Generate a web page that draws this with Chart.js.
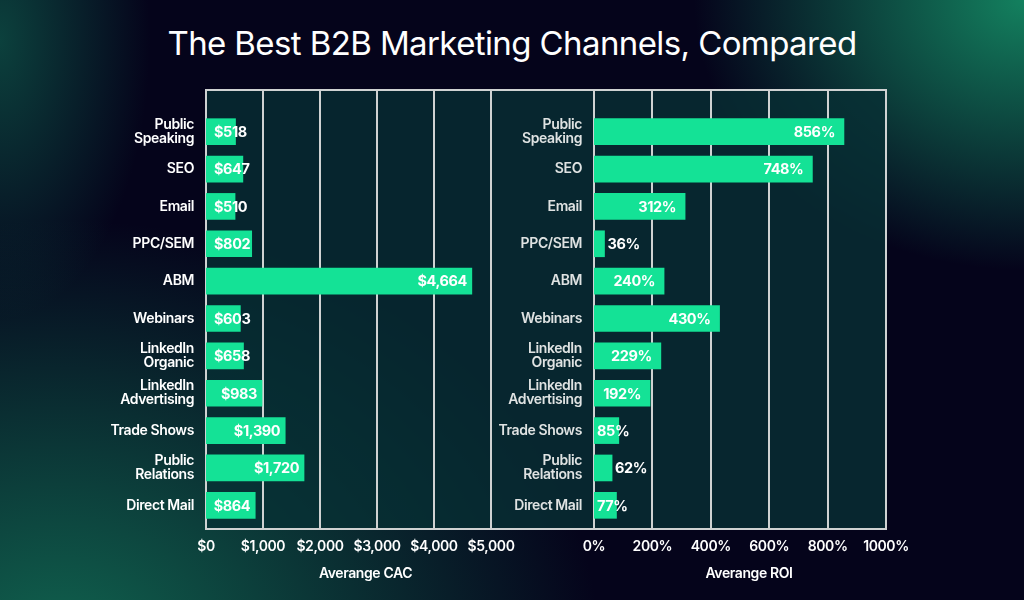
<!DOCTYPE html>
<html>
<head>
<meta charset="utf-8">
<script src="https://cdn.jsdelivr.net/npm/chart.js@4.4.1/dist/chart.umd.min.js"></script>
<style>
html, body { margin: 0; padding: 0; }
body {
	width: 1024px; height: 600px; overflow: hidden; position: relative;
	font-family: Inter, sans-serif;
	background:
		radial-gradient(ellipse 540px 430px at 60px 650px, rgba(17,105,82,0.95), rgba(17,105,82,0) 100%),
		radial-gradient(ellipse 330px 270px at 1024px 0px, rgba(20,135,98,0.95), rgba(20,135,98,0) 100%),
		radial-gradient(ellipse 150px 280px at 0px 40px, rgba(14,85,72,0.75), rgba(14,85,72,0) 100%),
		#05041b;
}
#title {
	position: absolute; left: 0; top: 23px; width: 1024px; text-align: center;
	color: #fff; font-size: 33px; line-height: 40px; font-weight: 400; letter-spacing: -0.6px;
}
canvas { position: absolute; left: 0; top: 0; }
</style>
</head>
<body>
<div id="title">The Best B2B Marketing Channels, Compared</div>
<canvas id="roiChart" width="1024" height="600"></canvas>
<canvas id="cacChart" width="1024" height="600"></canvas>
<script>
// categories (multi-line labels as arrays)
var channels = [
	['Public', 'Speaking'], 'SEO', 'Email', 'PPC/SEM', 'ABM', 'Webinars',
	['LinkedIn', 'Organic'], ['LinkedIn', 'Advertising'], 'Trade Shows',
	['Public', 'Relations'], 'Direct Mail'
];
// average customer acquisition cost ($)
var cacValues = [518, 647, 510, 802, 4664, 603, 658, 983, 1390, 1720, 864];
// average return on investment (%)
var roiValues = [856, 748, 312, 36, 240, 430, 229, 192, 85, 62, 77];

var cacTicks = ['$0', '$1,000', '$2,000', '$3,000', '$4,000', '$5,000'];
var roiTicks = ['0%', '200%', '400%', '600%', '800%', '1000%'];

var cacTitle = 'Averange CAC';
var roiTitle = 'Averange ROI';

var barColor = '#14e296';

// panel background + vertical grid lines, drawn under the bars
var panelPlugin = {
	id: 'panel',
	beforeDraw: function(chart, args, opts) {
		var ctx = chart.ctx, a = chart.chartArea, xs = chart.scales.x;
		var left = a.left - opts.padLeft, top = a.top - opts.padTop, bottom = a.bottom + opts.padBottom;
		ctx.save();
		ctx.fillStyle = opts.fill;
		ctx.fillRect(left, top, a.right - left, bottom - top);
		ctx.strokeStyle = opts.line;
		ctx.lineWidth = 2;
		xs.ticks.forEach(function(t) {
			var px = Math.round(xs.getPixelForValue(t.value));
			ctx.beginPath();
			ctx.moveTo(px, top);
			ctx.lineTo(px, bottom);
			ctx.stroke();
		});
		ctx.strokeRect(left, top, a.right - left, bottom - top);
		ctx.restore();
		ctx.letterSpacing = '-0.4px';
	}
};

// value labels at the bar ends
var valueLabels = {
	id: 'valueLabels',
	afterDatasetsDraw: function(chart, args, opts) {
		var ctx = chart.ctx, meta = chart.getDatasetMeta(0), ds = chart.data.datasets[0];
		ctx.save();
		ctx.letterSpacing = '-0.4px';
		ctx.font = '700 14.5px Inter';
		ctx.fillStyle = '#ffffff';
		ctx.textBaseline = 'middle';
		ctx.textAlign = 'left';
		meta.data.forEach(function(bar, i) {
			var txt = opts.prefix + ds.data[i].toLocaleString('en-US') + opts.suffix;
			var w = ctx.measureText(txt).width;
			var len = bar.x - bar.base, tx;
			if (w + 2 * opts.pad <= len) { tx = bar.x - opts.pad - w; }
			else if (len >= 20) { tx = bar.base + opts.inset; }
			else { tx = bar.x + 3; }
			ctx.fillText(txt, tx, bar.y + 1);
		});
		ctx.restore();
	}
};

// axis caption under the tick labels
var captionPlugin = {
	id: 'caption',
	afterDraw: function(chart, args, opts) {
		var ctx = chart.ctx, a = chart.chartArea;
		ctx.save();
		ctx.letterSpacing = '-0.4px';
		ctx.font = '600 14px Inter';
		ctx.fillStyle = '#ffffff';
		ctx.textAlign = 'center';
		ctx.textBaseline = 'alphabetic';
		ctx.fillText(opts.text, (a.left + a.right) / 2 + opts.dx, opts.y);
		ctx.restore();
	}
};

function makeChart(id, values, max, step, ticks, pad, yWidth, labelColor, panel, labelOpts, caption) {
	return new Chart(document.getElementById(id), {
		type: 'bar',
		data: {
			labels: channels,
			datasets: [{
				data: values,
				backgroundColor: barColor,
				borderWidth: 0,
				barThickness: 26
			}]
		},
		options: {
			responsive: false,
			animation: false,
			indexAxis: 'y',
			layout: { padding: pad },
			scales: {
				x: {
					min: 0, max: max,
					grid: { display: false, drawTicks: false },
					border: { display: false },
					ticks: {
						stepSize: step, autoSkip: false, maxRotation: 0,
						color: '#ffffff', padding: 14,
						font: { family: 'Inter', size: 14, weight: '600' },
						callback: function(v, i) { return ticks[i]; }
					},
					afterFit: function(s) { s.height = 76; }
				},
				y: {
					grid: { display: false, drawTicks: false },
					border: { display: false },
					ticks: {
						color: labelColor, padding: 12,
						font: { family: 'Inter', size: 14, weight: '600', lineHeight: 1.0 }
					},
					afterFit: function(s) { s.width = yWidth; }
				}
			},
			plugins: {
				legend: { display: false },
				tooltip: { enabled: false },
				panel: panel,
				valueLabels: labelOpts,
				caption: caption
			}
		},
		plugins: [panelPlugin, valueLabels, captionPlugin]
	});
}

makeChart('roiChart', roiValues, 1000, 200, roiTicks,
	{ left: 480, right: 138, top: 113, bottom: 0 }, 114, '#dfe2e2',
	{ padLeft: 103, padTop: 23, padBottom: 5, fill: 'rgba(7,48,52,0.8)', line: '#cfd2d2' },
	{ prefix: '', suffix: '%', pad: 9, inset: 3 },
	{ text: roiTitle, dx: 9, y: 578 });

makeChart('cacChart', cacValues, 5000, 1000, cacTicks,
	{ left: 0, right: 533, top: 113, bottom: 0 }, 206, '#ffffff',
	{ padLeft: 0, padTop: 23, padBottom: 5, fill: 'rgba(7,48,52,0.76)', line: '#cfd2d2' },
	{ prefix: '$', suffix: '', pad: 5, inset: 8 },
	{ text: cacTitle, dx: 17, y: 578 });
</script>
</body>
</html>
